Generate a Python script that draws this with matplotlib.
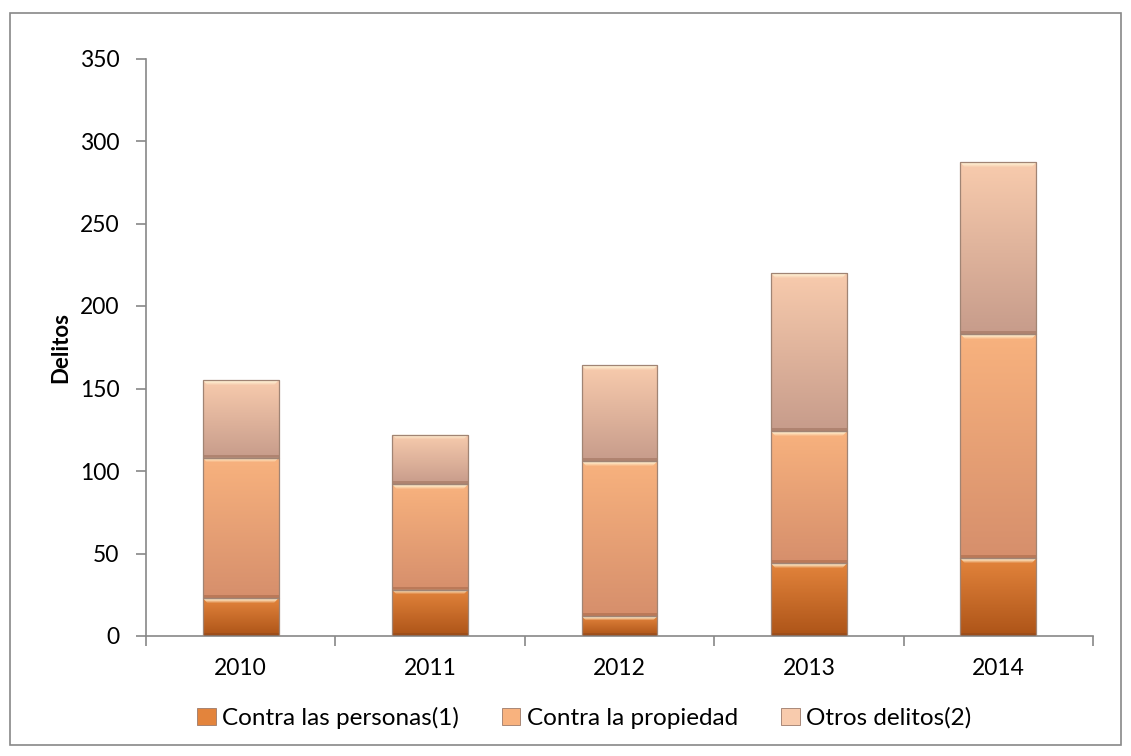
import numpy as np
import matplotlib
matplotlib.use("Agg")
import matplotlib.pyplot as plt
from matplotlib.patches import Rectangle, Polygon
from matplotlib.colors import LinearSegmentedColormap, to_rgb

years = ["2010", "2011", "2012", "2013", "2014"]
personas = [23, 28, 12, 44, 47]
propiedad = [85, 64, 94, 80, 136]
otros = [47, 30, 58, 96, 104]
series_names = ["Contra las personas(1)", "Contra la propiedad", "Otros delitos(2)"]
# (top colour, bottom colour) of each series' vertical shading
series_colors = [("#e3843c", "#ad5418"), ("#f8b27e", "#d68f6c"), ("#f8cbad", "#c79c8b")]

plt.rcParams['font.family'] = ['Lato', 'DejaVu Sans']
W, H = 1131, 756
fig = plt.figure(figsize=(W / 100, H / 100), dpi=100)
ax = fig.add_axes([146 / W, 1 - 636 / H, (1093 - 146) / W, (636 - 58.5) / H])

x = np.arange(len(years))
bw = 0.4
hl = np.zeros((2, 1, 4))
hl[:, 0, :3] = to_rgb("#fff3d6")
hl[0, 0, 3] = 0.0
hl[1, 0, 3] = 0.85
bottoms = np.zeros(len(years))
for vals, (ctop, cbot), name in zip([personas, propiedad, otros], series_colors, series_names):
    cmap = LinearSegmentedColormap.from_list("g", [to_rgb(cbot), to_rgb(ctop)])
    bars = ax.bar(x, vals, bw, bottom=bottoms, color=ctop, label=name,
                  edgecolor="#9c7a6a", linewidth=0.6, zorder=2)
    for b in bars:
        bx, by = b.get_x(), b.get_y()
        bwid, bh = b.get_width(), b.get_height()
        grad = np.linspace(0, 1, 100).reshape(-1, 1)
        im = ax.imshow(grad, cmap=cmap, origin="lower", aspect="auto",
                       extent=[bx, bx + bwid, by, by + bh], zorder=2.5,
                       interpolation="bilinear")
        im.set_clip_path(b)
        # bevelled top highlight
        th = min(4.0, bh * 0.3)
        inset = bwid * 0.08
        poly = Polygon([(bx, by + bh), (bx + bwid, by + bh),
                        (bx + bwid - inset, by + bh - th), (bx + inset, by + bh - th)],
                       closed=True, facecolor="none", edgecolor="none",
                       transform=ax.transData)
        ax.add_patch(poly)
        im2 = ax.imshow(hl, origin="lower", aspect="auto", interpolation="bilinear",
                        extent=[bx, bx + bwid, by + bh - th, by + bh], zorder=3)
        im2.set_clip_path(poly)
        # darker bottom edge shading
        bth = min(2.0, bh * 0.15)
        ax.add_patch(Rectangle((bx, by), bwid, bth, facecolor="#6b3a20",
                               alpha=0.25, linewidth=0, zorder=3))
        ax.add_patch(Rectangle((bx, by), bwid, bh, facecolor="none",
                               edgecolor="#a08474", linewidth=0.9, zorder=3.5))
    bottoms = bottoms + np.array(vals)

ax.set_xlim(-0.5, len(years) - 0.5)
ax.set_ylim(0, 350)
ax.set_yticks(range(0, 351, 50))
ax.set_xticks(x)
ax.set_xticklabels(years)
ax.set_xticks(np.arange(-0.5, len(years)), minor=True)
ax.tick_params(axis="x", which="major", length=0, pad=16, labelsize=16.5)
ax.tick_params(axis="x", which="minor", length=7, color="#888888", width=1.2)
ax.tick_params(axis="y", length=7, color="#888888", width=1.2, pad=12, labelsize=16.5)
for s in ["top", "right"]:
    ax.spines[s].set_visible(False)
for s in ["left", "bottom"]:
    ax.spines[s].set_color("#888888")
    ax.spines[s].set_linewidth(1.2)
ax.set_ylabel("Delitos", fontsize=16, fontweight="bold", labelpad=6)

leg = fig.legend(loc="center", bbox_to_anchor=(0.5165, 1 - 718 / H), ncol=3, frameon=False,
                 fontsize=17.5, handlelength=0.75, handleheight=0.75, handletextpad=0.25,
                 columnspacing=1.8)

fig.patches.append(Rectangle((10 / W, 1 - 745 / H), 1111 / W, 732 / H, transform=fig.transFigure,
                             facecolor="none", edgecolor="#888888", linewidth=1.2))
fig.savefig("out.png", dpi=100)
